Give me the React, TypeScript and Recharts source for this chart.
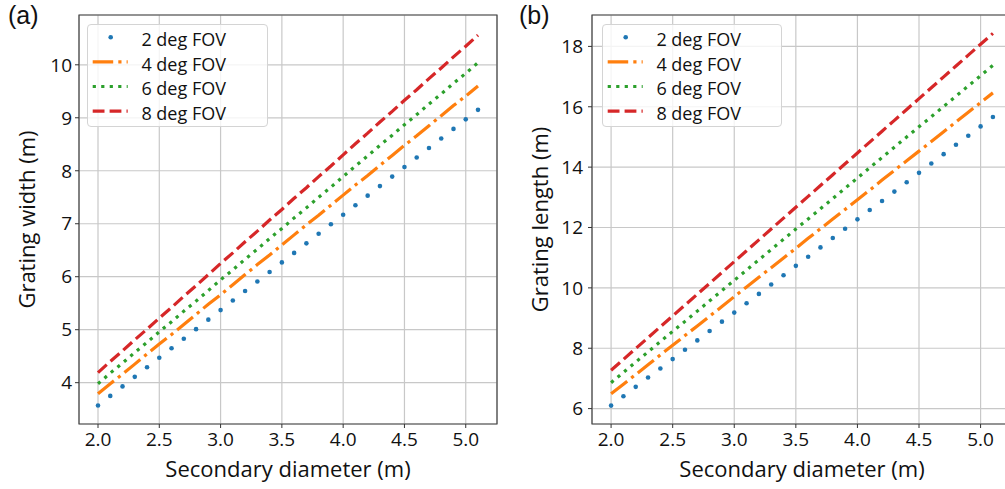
import { LineChart, Line, XAxis, YAxis, CartesianGrid, Legend, ReferenceArea } from 'recharts'

// secondary mirror diameter (m)
const diameters = [
  2.0, 2.1, 2.2, 2.3, 2.4, 2.5, 2.6, 2.7, 2.8, 2.9, 3.0, 3.1, 3.2, 3.3, 3.4, 3.5,
  3.6, 3.7, 3.8, 3.9, 4.0, 4.1, 4.2, 4.3, 4.4, 4.5, 4.6, 4.7, 4.8, 4.9, 5.0, 5.1,
]

// (a) grating width (m)
const widthFov2 = [
  3.57, 3.75, 3.93, 4.11, 4.29, 4.47, 4.65, 4.83, 5.01, 5.19, 5.37, 5.55, 5.73, 5.91, 6.09, 6.27,
  6.45, 6.63, 6.81, 6.99, 7.17, 7.35, 7.53, 7.71, 7.89, 8.07, 8.25, 8.43, 8.61, 8.79, 8.97, 9.15,
]
const widthFov4 = [
  3.79, 3.98, 4.16, 4.35, 4.54, 4.73, 4.91, 5.1, 5.29, 5.48, 5.66, 5.85, 6.04, 6.23, 6.41, 6.6,
  6.79, 6.98, 7.16, 7.35, 7.54, 7.73, 7.91, 8.1, 8.29, 8.48, 8.66, 8.85, 9.04, 9.23, 9.41, 9.6,
]
const widthFov6 = [
  3.98, 4.18, 4.37, 4.57, 4.76, 4.96, 5.15, 5.35, 5.54, 5.74, 5.94, 6.13, 6.33, 6.52, 6.72, 6.91,
  7.11, 7.3, 7.5, 7.69, 7.89, 8.09, 8.28, 8.48, 8.67, 8.87, 9.06, 9.26, 9.45, 9.65, 9.84, 10.04,
]
const widthFov8 = [
  4.19, 4.4, 4.6, 4.81, 5.01, 5.22, 5.42, 5.63, 5.83, 6.04, 6.25, 6.45, 6.66, 6.86, 7.07, 7.27,
  7.48, 7.68, 7.89, 8.09, 8.3, 8.51, 8.71, 8.92, 9.12, 9.33, 9.53, 9.74, 9.94, 10.15, 10.35, 10.56,
]

// (b) grating length (m)
const lengthFov2 = [
  6.1, 6.41, 6.72, 7.03, 7.33, 7.64, 7.95, 8.26, 8.57, 8.88, 9.18, 9.49, 9.8, 10.11, 10.42, 10.73,
  11.03, 11.34, 11.65, 11.96, 12.27, 12.58, 12.88, 13.19, 13.5, 13.81, 14.12, 14.43, 14.74, 15.04, 15.35, 15.66,
]
const lengthFov4 = [
  6.49, 6.81, 7.13, 7.45, 7.78, 8.1, 8.42, 8.74, 9.06, 9.38, 9.71, 10.03, 10.35, 10.67, 10.99, 11.31,
  11.64, 11.96, 12.28, 12.6, 12.92, 13.24, 13.57, 13.89, 14.21, 14.53, 14.85, 15.17, 15.5, 15.82, 16.14, 16.46,
]
const lengthFov6 = [
  6.86, 7.2, 7.54, 7.88, 8.22, 8.56, 8.89, 9.23, 9.57, 9.91, 10.25, 10.59, 10.93, 11.27, 11.61, 11.95,
  12.28, 12.62, 12.96, 13.3, 13.64, 13.98, 14.32, 14.66, 15.0, 15.34, 15.67, 16.01, 16.35, 16.69, 17.03, 17.37,
]
const lengthFov8 = [
  7.27, 7.63, 7.99, 8.35, 8.71, 9.07, 9.43, 9.79, 10.15, 10.51, 10.87, 11.23, 11.59, 11.95, 12.31, 12.67,
  13.03, 13.39, 13.75, 14.11, 14.47, 14.83, 15.19, 15.55, 15.91, 16.27, 16.63, 16.99, 17.35, 17.71, 18.07, 18.43,
]

const seriesNames = ['2 deg FOV', '4 deg FOV', '6 deg FOV', '8 deg FOV']
const xTicks = [2.0, 2.5, 3.0, 3.5, 4.0, 4.5, 5.0]
const widthTicks = [4, 5, 6, 7, 8, 9, 10]
const lengthTicks = [6, 8, 10, 12, 14, 16, 18]

const FONT = '"Open Sans", sans-serif'
const X_DOMAIN = [1.845, 5.255]
const TOP = 15
const BOTTOM = 424

const styles = [
  { key: 'fov2', color: '#1f77b4', dash: null },
  { key: 'fov4', color: '#ff7f0e', dash: '20.5 5.1 3.2 5.1' },
  { key: 'fov6', color: '#2ca02c', dash: '3.2 5.3' },
  { key: 'fov8', color: '#d62728', dash: '11.8 5.1' },
]

const toRows = (cols: number[][]) =>
  diameters.map((d, i) => ({ d, fov2: cols[0][i], fov4: cols[1][i], fov6: cols[2][i], fov8: cols[3][i] }))

const widthRows = toRows([widthFov2, widthFov4, widthFov6, widthFov8])
const lengthRows = toRows([lengthFov2, lengthFov4, lengthFov6, lengthFov8])

const LegendBox = ({ w }: { w: number }) => (
  <div
    style={{
      width: w,
      height: 103,
      border: '1px solid #d4d4d4',
      borderRadius: 4,
      background: 'rgba(255,255,255,0.8)',
      boxSizing: 'border-box',
    }}
  >
    <svg width={w - 2} height={101} style={{ display: 'block' }}>
      {styles.map((s, i) => {
        const cy = 12.3 + 24.6 * i
        return (
          <g key={s.key}>
            {s.dash ? (
              <line x1={4.7} x2={39.7} y1={cy} y2={cy} stroke={s.color} strokeWidth={3.2} strokeDasharray={s.dash} />
            ) : (
              <circle cx={22.7} cy={cy} r={2.3} fill={s.color} />
            )}
            <text x={53.4} y={cy + 8.8} fontSize={18} fontFamily={FONT} fill="#111">
              {seriesNames[i]}
            </text>
          </g>
        )
      })}
    </svg>
  </div>
)

type PanelProps = {
  rows: any[]
  yDomain: number[]
  yTicks: number[]
  yLabel: string
  left: number
  width: number
  axisWidth: number
  tickMargin: number
  yLabelX: number
  legendLeft: number
  legendWidth: number
}

const Panel = (p: PanelProps) => {
  const tickStyle = { fill: '#111', fontSize: 19, fontFamily: FONT }
  return (
    <div style={{ position: 'absolute', left: p.left, top: 0 }}>
      <LineChart
        width={p.width}
        height={489}
        data={p.rows}
        margin={{ top: TOP, right: 8, bottom: 0, left: 0 }}
      >
        <CartesianGrid stroke="#c8c8c8" strokeWidth={1.2} />
        <XAxis
          dataKey="d"
          type="number"
          domain={X_DOMAIN}
          ticks={xTicks}
          allowDataOverflow
          tickFormatter={(v: number) => v.toFixed(1)}
          height={65}
          tickSize={4}
          tickMargin={5}
          axisLine={false}
          tickLine={{ stroke: '#333' }}
          tick={tickStyle}
          label={(props: any) => {
            const vb = props.viewBox || { x: p.axisWidth, width: p.width - p.axisWidth - 8 }
            return (
              <text x={vb.x + vb.width / 2} y={477} textAnchor="middle" fontSize={22} fontFamily={FONT} fill="#111">
                Secondary diameter (m)
              </text>
            )
          }}
        />
        <YAxis
          type="number"
          domain={p.yDomain}
          ticks={p.yTicks}
          allowDataOverflow
          width={p.axisWidth}
          tickSize={4}
          tickMargin={p.tickMargin}
          axisLine={false}
          tickLine={{ stroke: '#333' }}
          tick={tickStyle}
          label={() => {
            const cy = (TOP + BOTTOM) / 2
            return (
              <text
                x={p.yLabelX}
                y={cy}
                transform={`rotate(-90, ${p.yLabelX}, ${cy})`}
                textAnchor="middle"
                fontSize={22}
                fontFamily={FONT}
                fill="#111"
              >
                {p.yLabel}
              </text>
            )
          }}
        />
        <ReferenceArea
          x1={X_DOMAIN[0]}
          x2={X_DOMAIN[1]}
          y1={p.yDomain[0]}
          y2={p.yDomain[1]}
          fill="none"
          stroke="#444"
          strokeWidth={1.2}
          ifOverflow="visible"
        />
        {styles.map((s) =>
          s.dash ? (
            <Line
              key={s.key}
              dataKey={s.key}
              stroke={s.color}
              strokeWidth={3.2}
              strokeDasharray={s.dash}
              dot={false}
              activeDot={false}
              isAnimationActive={false}
            />
          ) : (
            <Line
              key={s.key}
              dataKey={s.key}
              stroke="none"
              dot={{ r: 2.3, fill: s.color, stroke: 'none' }}
              activeDot={false}
              isAnimationActive={false}
            />
          )
        )}
        <Legend
          layout="vertical"
          align="center"
          verticalAlign="middle"
          wrapperStyle={{ left: p.legendLeft, top: 24, width: p.legendWidth, height: 103 }}
          content={() => <LegendBox w={p.legendWidth} />}
        />
      </LineChart>
    </div>
  )
}

const tagStyle = {
  position: 'absolute' as const,
  top: 1,
  fontSize: 25,
  lineHeight: '28px',
  fontFamily: '"Liberation Sans", Arial, sans-serif',
  color: '#111',
}

export default function App() {
  return (
    <div
      style={{
        position: 'absolute',
        left: 0,
        top: 0,
        width: 1005,
        height: 489,
        overflow: 'hidden',
        background: '#fff',
        fontFamily: FONT,
      }}
    >
      <Panel
        rows={widthRows}
        yDomain={[3.22, 10.94]}
        yTicks={widthTicks}
        yLabel="Grating width (m)"
        left={0}
        width={505}
        axisWidth={79}
        tickMargin={3}
        yLabelX={35}
        legendLeft={87}
        legendWidth={181}
      />
      <Panel
        rows={lengthRows}
        yDomain={[5.49, 19.04]}
        yTicks={lengthTicks}
        yLabel="Grating length (m)"
        left={505}
        width={515}
        axisWidth={87}
        tickMargin={5}
        yLabelX={43}
        legendLeft={97}
        legendWidth={180}
      />
      <div style={{ ...tagStyle, left: 8 }}>(a)</div>
      <div style={{ ...tagStyle, left: 519 }}>(b)</div>
    </div>
  )
}
